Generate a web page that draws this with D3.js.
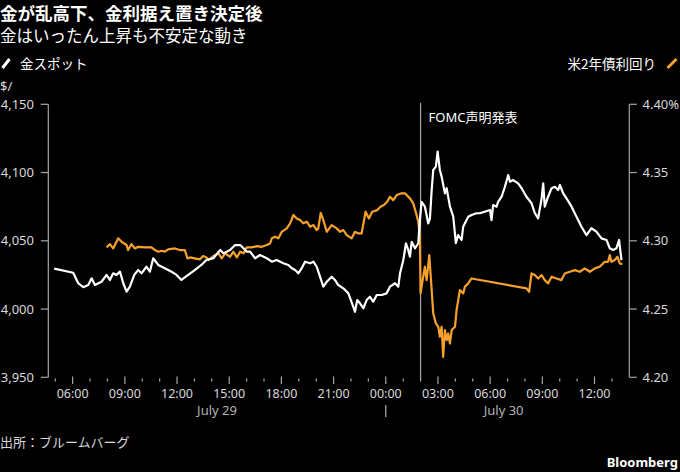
<!DOCTYPE html>
<html>
<head>
<meta charset="utf-8">
<script src="https://cdn.jsdelivr.net/npm/d3@7"></script>
<style>
  html, body { margin: 0; padding: 0; background: #000; }
  svg { display: block; font-family: "Noto Sans", "Noto Sans CJK JP", sans-serif; }
</style>
</head>
<body>
<svg id="chart" width="680" height="472"></svg>
<script>
// hours counted from July 29 00:00
const goldTime = [4.94, 6.03, 6.32, 6.61, 6.90, 7.09, 7.28, 7.66, 7.95, 8.14, 8.33, 8.52, 8.72, 8.91, 9.10, 9.29, 9.54, 9.77, 9.96,
  10.24, 10.44, 10.63, 10.92, 11.30, 11.68, 11.97, 12.25, 12.64, 13.02, 13.40, 13.69, 14.09, 14.48, 14.67, 15.05, 15.34, 15.63,
  15.82, 16.01, 16.20, 16.49, 16.77, 17.16, 17.45, 17.73, 18.11, 18.40, 18.60, 18.79, 18.97, 19.17, 19.36, 19.65, 19.84, 20.03,
  20.22, 20.41, 20.61, 20.89, 21.08, 21.27, 21.56, 21.85, 22.13, 22.23, 22.36, 22.52, 22.71, 22.90, 23.09, 23.28, 23.48, 23.77,
  24.05, 24.24, 24.53, 24.72, 24.82, 25.01, 25.16, 25.29, 25.39, 25.49, 25.68, 25.87, 25.96, 26.06, 26.25, 26.44, 26.54, 26.64,
  26.73, 26.88, 26.98, 27.11, 27.21, 27.40, 27.50, 27.69, 27.88, 28.03, 28.16, 28.36, 28.45, 28.74, 28.93, 29.22, 29.41, 29.99,
  30.08, 30.17, 30.37, 30.46, 30.66, 30.85, 31.04, 31.14, 31.32, 31.61, 31.81, 32.09, 32.38, 32.57, 32.76, 32.96, 33.05, 33.14,
  33.33, 33.53, 33.72, 33.91, 34.01, 34.20, 34.39, 34.68, 34.96, 35.25, 35.54, 35.82, 36.11, 36.40, 36.69, 36.88, 37.07, 37.26,
  37.41, 37.55];
const goldPrice = [4029.6, 4026.6, 4018.9, 4016.0, 4017.6, 4022.5, 4017.6, 4020.0, 4025.0, 4021.3, 4026.2, 4025.0, 4027.4, 4018.9,
  4012.7, 4016.4, 4025.0, 4028.6, 4026.2, 4031.0, 4027.4, 4037.2, 4032.3, 4029.9, 4027.4, 4025.0, 4021.3, 4025.0, 4028.6, 4032.3,
  4035.9, 4037.2, 4043.3, 4040.8, 4043.3, 4046.9, 4046.9, 4044.5, 4042.0, 4042.0, 4037.2, 4039.6, 4037.2, 4034.7, 4035.9, 4033.5,
  4032.3, 4029.9, 4028.6, 4026.2, 4029.9, 4034.7, 4033.5, 4034.7, 4031.0, 4023.7, 4016.4, 4020.0, 4023.7, 4021.3, 4017.6, 4015.2,
  4011.5, 4001.7, 3998.0, 4006.6, 4004.2, 4000.6, 4006.6, 4009.0, 4005.4, 4010.3, 4010.3, 4011.5, 4016.4, 4018.9, 4016.4, 4026.2,
  4035.9, 4048.2, 4043.3, 4038.4, 4049.3, 4044.5, 4048.2, 4065.2, 4078.6, 4075.0, 4062.8, 4066.5, 4087.2, 4101.9, 4104.3, 4115.3,
  4101.9, 4097.0, 4084.8, 4088.5, 4075.0, 4067.7, 4048.2, 4054.2, 4050.6, 4060.3, 4067.7, 4068.9, 4070.2, 4070.2, 4072.6, 4065.2,
  4076.2, 4075.0, 4078.6, 4082.3, 4089.6, 4098.2, 4093.3, 4094.5, 4092.1, 4088.5, 4082.3, 4077.5, 4070.2, 4066.5, 4081.1, 4092.1,
  4075.0, 4082.3, 4088.5, 4089.6, 4087.2, 4090.9, 4084.8, 4081.1, 4075.0, 4067.7, 4060.3, 4054.2, 4059.2, 4056.7, 4051.8, 4050.6,
  4044.5, 4043.3, 4044.5, 4050.6, 4035.9];

const yieldTime = [7.95, 8.14, 8.33, 8.62, 8.81, 9.10, 9.19, 9.38, 9.58, 9.77, 10.15, 10.53, 10.73, 10.92, 11.11, 11.30, 11.49,
  11.88, 12.16, 12.45, 12.60, 12.74, 13.02, 13.31, 13.50, 13.69, 13.81, 14.09, 14.38, 14.57, 14.76, 15.05, 15.24, 15.44, 15.63,
  15.82, 16.01, 16.30, 16.59, 16.87, 17.16, 17.35, 17.45, 17.64, 17.83, 18.02, 18.31, 18.50, 18.69, 18.88, 19.07, 19.26, 19.46,
  19.65, 19.84, 20.03, 20.12, 20.26, 20.41, 20.61, 20.89, 21.18, 21.37, 21.56, 21.75, 22.04, 22.23, 22.42, 22.61, 22.84, 23.03,
  23.22, 23.51, 23.70, 23.89, 24.08, 24.24, 24.43, 24.63, 24.91, 25.10, 25.39, 25.58, 25.77, 25.87, 25.96, 26.00, 26.12, 26.25,
  26.35, 26.50, 26.60, 26.73, 26.88, 27.02, 27.11, 27.21, 27.30, 27.40, 27.50, 27.59, 27.69, 27.79, 27.98, 28.07, 28.26, 28.45,
  28.55, 28.74, 28.93, 32.09, 32.24, 32.38, 32.57, 32.76, 32.96, 33.14, 33.33, 33.53, 33.82, 34.10, 34.29, 34.58, 34.87, 35.15,
  35.44, 35.73, 36.02, 36.30, 36.59, 36.78, 36.88, 36.97, 37.16, 37.32, 37.45, 37.60];
const yieldValue = [4.2952, 4.2976, 4.2944, 4.3018, 4.2993, 4.2969, 4.2932, 4.2976, 4.2944, 4.2956, 4.2952, 4.2952, 4.2932, 4.2920,
  4.2927, 4.2920, 4.2937, 4.2944, 4.2932, 4.2932, 4.2871, 4.2878, 4.2871, 4.2864, 4.2888, 4.2878, 4.2859, 4.2888, 4.2908, 4.2871,
  4.2908, 4.2883, 4.2920, 4.2878, 4.2920, 4.2908, 4.2952, 4.2952, 4.2961, 4.2956, 4.2969, 4.2981, 4.3018, 4.3030, 4.3018, 4.3066,
  4.3091, 4.3128, 4.3189, 4.3164, 4.3152, 4.3128, 4.3140, 4.3103, 4.3115, 4.3079, 4.3091, 4.3205, 4.3152, 4.3066, 4.3115, 4.3091,
  4.3066, 4.3079, 4.3042, 4.3018, 4.3066, 4.3054, 4.3054, 4.3213, 4.3164, 4.3213, 4.3225, 4.3249, 4.3262, 4.3286, 4.3323, 4.3298,
  4.3335, 4.3348, 4.3348, 4.3311, 4.3274, 4.3189, 4.3140, 4.3030, 4.2615, 4.2712, 4.2810, 4.2712, 4.2895, 4.2712, 4.2468, 4.2395,
  4.2370, 4.2297, 4.2370, 4.2150, 4.2346, 4.2272, 4.2321, 4.2248, 4.2346, 4.2370, 4.2492, 4.2639, 4.2615, 4.2663, 4.2688, 4.2724,
  4.2651, 4.2626, 4.2761, 4.2749, 4.2724, 4.2749, 4.2712, 4.2688, 4.2737, 4.2724, 4.2712, 4.2761, 4.2773, 4.2785, 4.2773, 4.2798,
  4.2773, 4.2798, 4.2810, 4.2846, 4.2846, 4.2895, 4.2846, 4.2859, 4.2883, 4.2834, 4.2829];

const goldTicks = [3950, 4000, 4050, 4100, 4150];
const yieldTicks = [4.20, 4.25, 4.30, 4.35, 4.40];
const hourTicks = d3.range(5, 38);
const labelHours = [6, 9, 12, 15, 18, 21, 24, 27, 30, 33, 36];
const xTickLabels = ["06:00", "09:00", "12:00", "15:00", "18:00", "21:00", "00:00", "03:00", "06:00", "09:00", "12:00"];
const dayStarts = [0, 24];
const dayLabels = ["July 29", "July 30"];
const fomcHour = 26;

const svg = d3.select("#chart");
const axisColor = "#a6a6a6";
const labelColor = "#d9d9d9";
const gold = "#ffffff";
const orange = "#f5a12b";

const x = d3.scaleLinear().domain([4.6, 38.0]).range([48.3, 629.3]);
const yGold = d3.scaleLinear().domain([3950, 4150]).range([377.3, 104.3]);
const yYield = d3.scaleLinear().domain([4.20, 4.40]).range([377.3, 104.3]);

// titles
svg.append("text").attr("x", 0).attr("y", 20)
  .attr("font-family", "Noto Sans CJK JP").attr("font-weight", "bold").attr("font-size", 17.5)
  .attr("fill", "#fff").text("金が乱高下、金利据え置き決定後");
svg.append("text").attr("x", 0).attr("y", 42)
  .attr("font-family", "Noto Sans CJK JP").attr("font-size", 16.5)
  .attr("fill", "#fff").text("金はいったん上昇も不安定な動き");

// legend
svg.append("line").attr("x1", 2.5).attr("y1", 68).attr("x2", 9.5).attr("y2", 59)
  .attr("stroke", gold).attr("stroke-width", 3);
svg.append("text").attr("x", 20).attr("y", 69)
  .attr("font-family", "Noto Sans CJK JP").attr("font-size", 13.5)
  .attr("fill", "#fff").text("金スポット");
svg.append("line").attr("x1", 667.5).attr("y1", 68).attr("x2", 676.5).attr("y2", 59)
  .attr("stroke", orange).attr("stroke-width", 3);
svg.append("text").attr("x", 656).attr("y", 69).attr("text-anchor", "end")
  .attr("font-family", "Noto Sans CJK JP").attr("font-size", 13.5)
  .attr("fill", "#fff").text("米2年債利回り");

svg.append("text").attr("x", 0).attr("y", 91)
  .attr("font-size", 13).attr("fill", labelColor).text("$/");

// left axis
const left = svg.append("g");
left.append("line").attr("x1", x.range()[0]).attr("x2", x.range()[0])
  .attr("y1", yGold.range()[1]).attr("y2", yGold.range()[0]).attr("stroke", axisColor).attr("stroke-width", 1.2);
left.selectAll(".tick").data(goldTicks).enter().append("line")
  .attr("x1", x.range()[0] - 7.5).attr("x2", x.range()[0])
  .attr("y1", d => yGold(d)).attr("y2", d => yGold(d))
  .attr("stroke", axisColor).attr("stroke-width", 1.2);
left.selectAll(".lbl").data(goldTicks).enter().append("text")
  .attr("x", 34).attr("y", d => yGold(d)).attr("dy", "0.35em").attr("text-anchor", "end")
  .attr("font-size", 13).attr("fill", labelColor).text(d => d3.format(",")(d));

// right axis
const right = svg.append("g");
right.append("line").attr("x1", x.range()[1]).attr("x2", x.range()[1])
  .attr("y1", yYield.range()[1]).attr("y2", yYield.range()[0]).attr("stroke", axisColor).attr("stroke-width", 1.2);
right.selectAll(".tick").data(yieldTicks).enter().append("line")
  .attr("x1", x.range()[1]).attr("x2", x.range()[1] + 7.5)
  .attr("y1", d => yYield(d)).attr("y2", d => yYield(d))
  .attr("stroke", axisColor).attr("stroke-width", 1.2);
right.selectAll(".lbl").data(yieldTicks).enter().append("text")
  .attr("x", 642.5).attr("y", d => yYield(d)).attr("dy", "0.35em")
  .attr("font-size", 13).attr("fill", labelColor)
  .text(d => d3.format(".2f")(d) + (d === 4.40 ? "%" : ""));

// x axis ticks
const bottom = svg.append("g");
bottom.selectAll("line").data(hourTicks).enter().append("line")
  .attr("x1", d => x(d)).attr("x2", d => x(d))
  .attr("y1", d => d % 3 === 0 ? 376.5 : 378.5)
  .attr("y2", d => d % 3 === 0 ? 384 : 381.5)
  .attr("stroke", axisColor).attr("stroke-width", 1.2);
bottom.selectAll("text").data(labelHours).enter().append("text")
  .attr("x", d => x(d)).attr("y", 398).attr("text-anchor", "middle")
  .attr("font-size", 12.5).attr("fill", labelColor).text((d, i) => xTickLabels[i]);

// day labels centred in the visible part of each day
const lastHour = d3.max(goldTime);
bottom.selectAll(".day").data(dayStarts).enter().append("text")
  .attr("x", d => x((Math.max(d, x.domain()[0]) + Math.min(d + 24, lastHour)) / 2))
  .attr("y", 415).attr("text-anchor", "middle")
  .attr("font-size", 13).attr("fill", "#b3b3b3").text((d, i) => dayLabels[i]);
bottom.append("line").attr("x1", x(24)).attr("x2", x(24)).attr("y1", 405).attr("y2", 417)
  .attr("stroke", "#b3b3b3").attr("stroke-width", 1.2);

// FOMC marker
svg.append("line").attr("x1", x(fomcHour)).attr("x2", x(fomcHour)).attr("y1", 103).attr("y2", 380)
  .attr("stroke", axisColor).attr("stroke-width", 1.2);
svg.append("text").attr("x", x(fomcHour) + 8).attr("y", 122)
  .attr("font-size", 13).attr("fill", "#fff")
  .text("FOMC声明発表");

// lines
const goldLine = d3.line().x((d, i) => x(goldTime[i])).y(d => yGold(d));
const yieldLine = d3.line().x((d, i) => x(yieldTime[i])).y(d => yYield(d));

svg.append("path").datum(yieldValue).attr("d", yieldLine)
  .attr("fill", "none").attr("stroke", orange).attr("stroke-width", 2.2).attr("stroke-linejoin", "round");
svg.append("path").datum(goldPrice).attr("d", goldLine)
  .attr("fill", "none").attr("stroke", gold).attr("stroke-width", 2.2).attr("stroke-linejoin", "round");

// footer
svg.append("text").attr("x", 0).attr("y", 447)
  .attr("font-family", "Noto Sans CJK JP").attr("font-size", 13)
  .attr("fill", labelColor).text("出所：ブルームバーグ");
svg.append("text").attr("x", 678).attr("y", 467).attr("text-anchor", "end")
  .attr("font-weight", "bold").attr("font-size", 13)
  .attr("fill", "#fff").text("Bloomberg");
</script>
</body>
</html>
